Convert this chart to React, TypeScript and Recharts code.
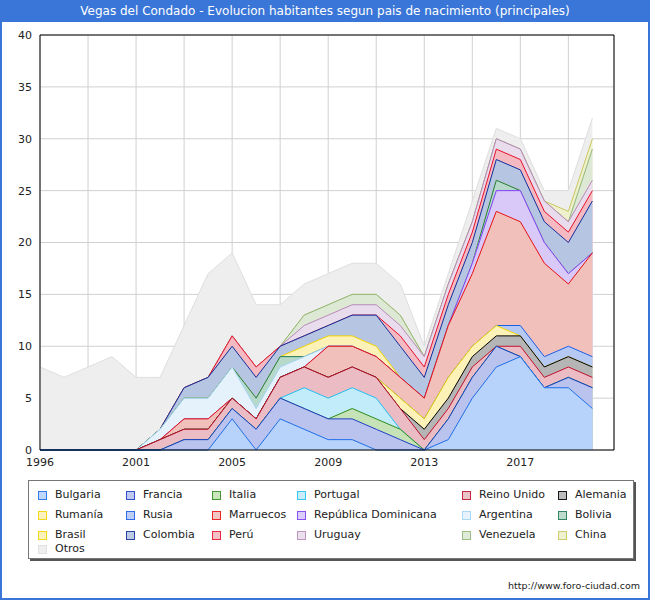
import React from "react";
import { AreaChart, Area, XAxis, YAxis, CartesianGrid, ReferenceArea } from "recharts";

// 1997 is missing from the padrón series, so the x axis is an index, not a year
const YEARS = [
  "1996", "1998", "1999", "2000", "2001", "2002", "2003", "2004", "2005", "2006", "2007", "2008",
  "2009", "2010", "2011", "2012", "2013", "2014", "2015", "2016", "2017", "2018", "2019", "2020",
];

const BULGARIA = [0, 0, 0, 0, 0, 0, 0, 0, 3, 0, 3, 2, 1, 1, 0, 0, 0, 1, 5, 8, 9, 6, 6, 4];
const FRANCIA = [0, 0, 0, 0, 0, 0, 1, 1, 1, 2, 2, 2, 2, 2, 2, 1, 0, 2, 2, 2, 0, 0, 1, 2];
const ITALIA = [0, 0, 0, 0, 0, 0, 0, 0, 0, 0, 0, 0, 0, 1, 1, 1, 0, 0, 0, 0, 0, 0, 0, 0];
const PORTUGAL = [0, 0, 0, 0, 0, 0, 0, 0, 0, 0, 0, 2, 2, 2, 2, 0, 0, 0, 0, 0, 0, 0, 0, 0];
const REINO_UNIDO = [0, 0, 0, 0, 0, 1, 1, 1, 1, 1, 2, 2, 2, 2, 2, 2, 1, 1, 1, 0, 1, 1, 1, 1];
const ALEMANIA = [0, 0, 0, 0, 0, 0, 0, 0, 0, 0, 0, 0, 0, 0, 0, 0, 1, 1, 1, 1, 1, 1, 1, 1];
const RUMANIA = [0, 0, 0, 0, 0, 0, 0, 0, 0, 0, 0, 0, 0, 0, 0, 1, 1, 2, 1, 1, 0, 0, 0, 0];
const RUSIA = [0, 0, 0, 0, 0, 0, 0, 0, 0, 0, 0, 0, 0, 0, 0, 0, 0, 0, 0, 0, 1, 1, 1, 1];
const MARRUECOS = [0, 0, 0, 0, 0, 0, 1, 1, 0, 0, 0, 0, 3, 2, 2, 2, 2, 5, 7, 11, 10, 9, 6, 10];
const REP_DOMINICANA = [0, 0, 0, 0, 0, 0, 0, 0, 0, 0, 0, 0, 0, 0, 0, 0, 0, 0, 1, 2, 3, 2, 1, 0];
const ARGENTINA = [0, 0, 0, 0, 0, 1, 2, 2, 3, 1, 1, 1, 0, 0, 0, 0, 0, 0, 0, 0, 0, 0, 0, 0];
const BOLIVIA = [0, 0, 0, 0, 0, 0, 0, 0, 0, 1, 1, 0, 0, 0, 0, 0, 0, 0, 0, 1, 0, 0, 0, 0];
const BRASIL = [0, 0, 0, 0, 0, 0, 0, 0, 0, 0, 0, 1, 1, 1, 1, 0, 0, 0, 0, 0, 0, 0, 0, 0];
const COLOMBIA = [0, 0, 0, 0, 0, 0, 1, 2, 2, 2, 1, 1, 1, 2, 3, 3, 2, 2, 2, 2, 2, 2, 3, 5];
const PERU = [0, 0, 0, 0, 0, 0, 0, 0, 1, 1, 0, 0, 0, 0, 0, 1, 1, 1, 1, 1, 1, 1, 1, 1];
const URUGUAY = [0, 0, 0, 0, 0, 0, 0, 0, 0, 0, 0, 1, 1, 1, 1, 1, 1, 1, 1, 1, 1, 1, 1, 1];
const VENEZUELA = [0, 0, 0, 0, 0, 0, 0, 0, 0, 0, 0, 1, 1, 1, 1, 1, 0, 0, 0, 0, 0, 0, 0, 3];
const CHINA = [0, 0, 0, 0, 0, 0, 0, 0, 0, 0, 0, 0, 0, 0, 0, 0, 0, 0, 0, 0, 0, 0, 1, 1];
const OTROS = [8, 7, 8, 9, 7, 5, 6, 10, 8, 6, 4, 3, 3, 3, 3, 3, 1, 1, 2, 1, 1, 1, 2, 2];

const Y_TICKS = [0, 5, 10, 15, 20, 25, 30, 35, 40];
const X_TICKS = [0, 2, 4, 6, 8, 10, 12, 14, 16, 18, 20, 22];

// stacking order, bottom first
const SERIES = [
  { key: "bulgaria", name: "Bulgaria", values: BULGARIA, fill: "#b7d3fb", stroke: "#1f6fe8" },
  { key: "francia", name: "Francia", values: FRANCIA, fill: "#b9c3ee", stroke: "#1e3ec6" },
  { key: "italia", name: "Italia", values: ITALIA, fill: "#c6e3b8", stroke: "#2c8c1a" },
  { key: "portugal", name: "Portugal", values: PORTUGAL, fill: "#c3ecfb", stroke: "#22bff0" },
  { key: "reinoUnido", name: "Reino Unido", values: REINO_UNIDO, fill: "#ebbcc4", stroke: "#c0102c" },
  { key: "alemania", name: "Alemania", values: ALEMANIA, fill: "#b5b5b5", stroke: "#000000" },
  { key: "rumania", name: "Rumanía", values: RUMANIA, fill: "#fcf1b6", stroke: "#f2d500" },
  { key: "rusia", name: "Rusia", values: RUSIA, fill: "#b5c9f2", stroke: "#1a5ee8" },
  { key: "marruecos", name: "Marruecos", values: MARRUECOS, fill: "#f2c0bb", stroke: "#e81010" },
  { key: "repDom", name: "República Dominicana", values: REP_DOMINICANA, fill: "#d8c9f9", stroke: "#7f3ff0" },
  { key: "argentina", name: "Argentina", values: ARGENTINA, fill: "#e5f2fc", stroke: "#a3d3f3" },
  { key: "bolivia", name: "Bolivia", values: BOLIVIA, fill: "#b7d9c9", stroke: "#1d7a55" },
  { key: "brasil", name: "Brasil", values: BRASIL, fill: "#fcf1b6", stroke: "#f2d500" },
  { key: "colombia", name: "Colombia", values: COLOMBIA, fill: "#b6c5e2", stroke: "#10309c" },
  { key: "peru", name: "Perú", values: PERU, fill: "#f5b9c1", stroke: "#e8102a" },
  { key: "uruguay", name: "Uruguay", values: URUGUAY, fill: "#e9dcec", stroke: "#b88ab8" },
  { key: "venezuela", name: "Venezuela", values: VENEZUELA, fill: "#dde8d5", stroke: "#92b878" },
  { key: "china", name: "China", values: CHINA, fill: "#eef1cc", stroke: "#c8c860" },
  { key: "otros", name: "Otros", values: OTROS, fill: "#eeeeee", stroke: "#dedede" },
];

// legend grid: column x of the text, row y of the text centre
const LEGEND_COLS = [55, 143, 229, 314, 479, 575];
const LEGEND_ROWS = [495, 515, 535, 549];

// cumulative tops; areas are painted top series first so lower fills/lines sit on top
const rows = YEARS.map((year, i) => {
  const row: Record<string, number | string> = { i, year };
  let acc = 0;
  SERIES.forEach((s) => {
    acc += s.values[i];
    row[s.key] = acc;
  });
  return row;
});

const FONT = "'DejaVu Sans', sans-serif";
const BLUE = "#3a76d8";

export default function App() {
  return (
    <div
      style={{
        position: "absolute",
        left: 0,
        top: 0,
        width: 650,
        height: 600,
        background: "#fff",
        fontFamily: FONT,
        overflow: "hidden",
      }}
    >
      <div
        style={{
          position: "absolute",
          left: 0,
          top: 0,
          width: 650,
          height: 22,
          background: BLUE,
          color: "#fff",
          fontSize: 12,
          lineHeight: "22px",
          textAlign: "center",
        }}
      >
        Vegas del Condado - Evolucion habitantes segun pais de nacimiento (principales)
      </div>

      <div style={{ position: "absolute", left: 0, top: 0 }}>
        <AreaChart width={650} height={480} data={rows} margin={{ top: 35, right: 36, left: 10, bottom: 0 }}>
          <CartesianGrid stroke="#d0d0d0" strokeWidth={1} />
          {[...SERIES].reverse().map((s) => (
            <Area
              key={s.key}
              type="linear"
              dataKey={s.key}
              name={s.name}
              fill={s.fill}
              fillOpacity={1}
              stroke={s.stroke}
              strokeWidth={1}
              dot={false}
              activeDot={false}
              isAnimationActive={false}
            />
          ))}
          <XAxis
            dataKey="i"
            type="number"
            domain={[0, 23.9]}
            ticks={X_TICKS}
            interval={0}
            tickFormatter={(v: number) => (v % 4 === 0 ? YEARS[v] : "")}
            tickLine={false}
            axisLine={false}
            height={30}
            tick={{ fontSize: 11, fill: "#222", fontFamily: FONT }}
          />
          <YAxis
            type="number"
            domain={[0, 40]}
            ticks={Y_TICKS}
            interval={0}
            tickLine={false}
            axisLine={false}
            width={30}
            tick={{ fontSize: 11, fill: "#222", fontFamily: FONT }}
          />
          <ReferenceArea x1={0} x2={23.9} y1={0} y2={40} fill="none" stroke="#000" strokeWidth={1} />
        </AreaChart>
      </div>

      <div
        style={{
          position: "absolute",
          left: 28,
          top: 480,
          width: 604,
          height: 77,
          border: "1px solid #777",
          boxShadow: "2px 2px 0 #555",
          background: "#fff",
        }}
      />
      {SERIES.map((s, idx) => {
        const col = idx < 18 ? idx % 6 : 0;
        const row = idx < 18 ? Math.floor(idx / 6) : 3;
        const x = LEGEND_COLS[col];
        const y = LEGEND_ROWS[row];
        return (
          <React.Fragment key={s.key}>
            <div
              style={{
                position: "absolute",
                left: x - 17,
                top: y - 4,
                width: 7,
                height: 7,
                background: s.fill,
                border: "1px solid " + s.stroke,
                opacity: 0.9,
              }}
            />
            <div
              style={{
                position: "absolute",
                left: x,
                top: y - 8,
                fontSize: 11,
                lineHeight: "16px",
                color: "#222",
                whiteSpace: "nowrap",
              }}
            >
              {s.name}
            </div>
          </React.Fragment>
        );
      })}

      <div
        style={{
          position: "absolute",
          right: 10,
          top: 578,
          fontSize: 9.5,
          lineHeight: "16px",
          color: "#222",
        }}
      >
        http://www.foro-ciudad.com
      </div>

      <div
        style={{
          position: "absolute",
          left: 0,
          top: 0,
          width: 650,
          height: 600,
          boxSizing: "border-box",
          borderLeft: "2px solid " + BLUE,
          borderRight: "2px solid " + BLUE,
          borderBottom: "2px solid " + BLUE,
          pointerEvents: "none",
        }}
      />
    </div>
  );
}
